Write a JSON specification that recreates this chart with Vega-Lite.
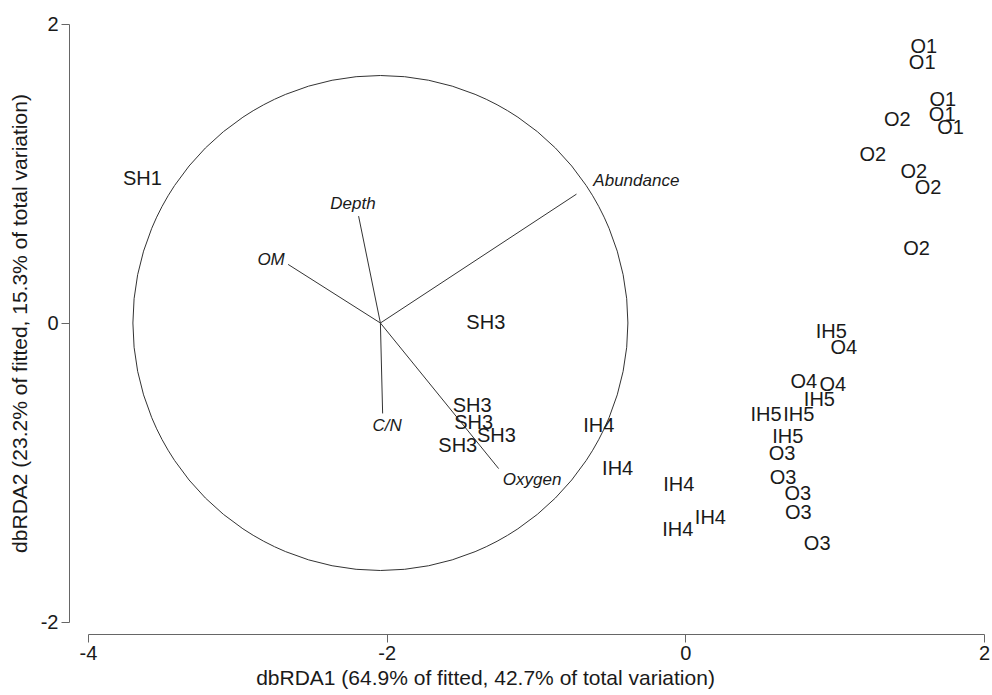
{
  "$schema": "https://vega.github.io/schema/vega-lite/v6.json",
  "width": 896,
  "height": 598,
  "autosize": {"type": "none"},
  "padding": {"left": 88, "top": 24, "right": 8, "bottom": 73},
  "config": {"view": {"stroke": null}, "font": "Liberation Sans"},
  "datasets": {
    "sites": [
      {"site": "SH1", "x": -3.636, "y": 0.963},
      {"site": "SH3", "x": -1.336, "y": 0.0},
      {"site": "SH3", "x": -1.428, "y": -0.557},
      {"site": "SH3", "x": -1.417, "y": -0.668},
      {"site": "SH3", "x": -1.265, "y": -0.757},
      {"site": "SH3", "x": -1.524, "y": -0.822},
      {"site": "IH4", "x": -0.580, "y": -0.690},
      {"site": "IH4", "x": -0.453, "y": -0.974},
      {"site": "IH4", "x": -0.044, "y": -1.085},
      {"site": "IH4", "x": 0.168, "y": -1.302},
      {"site": "IH4", "x": -0.051, "y": -1.387},
      {"site": "IH5", "x": 0.977, "y": -0.059},
      {"site": "IH5", "x": 0.898, "y": -0.512},
      {"site": "IH5", "x": 0.541, "y": -0.617},
      {"site": "IH5", "x": 0.760, "y": -0.617},
      {"site": "IH5", "x": 0.686, "y": -0.762},
      {"site": "O4", "x": 1.061, "y": -0.170},
      {"site": "O4", "x": 0.793, "y": -0.394},
      {"site": "O4", "x": 0.987, "y": -0.416},
      {"site": "O3", "x": 0.648, "y": -0.878},
      {"site": "O3", "x": 0.655, "y": -1.036},
      {"site": "O3", "x": 0.753, "y": -1.141},
      {"site": "O3", "x": 0.756, "y": -1.268},
      {"site": "O3", "x": 0.883, "y": -1.476},
      {"site": "O1", "x": 1.597, "y": 1.848},
      {"site": "O1", "x": 1.586, "y": 1.741},
      {"site": "O1", "x": 1.724, "y": 1.492},
      {"site": "O1", "x": 1.720, "y": 1.391},
      {"site": "O1", "x": 1.776, "y": 1.302},
      {"site": "O2", "x": 1.419, "y": 1.358},
      {"site": "O2", "x": 1.255, "y": 1.123},
      {"site": "O2", "x": 1.530, "y": 1.012},
      {"site": "O2", "x": 1.626, "y": 0.901},
      {"site": "O2", "x": 1.548, "y": 0.494}
    ],
    "vectors": [
      {"var": "Abundance", "x0": -2.042, "y0": 0, "x": -0.729, "y": 0.862, "lx": -0.328, "ly": 0.949},
      {"var": "Depth", "x0": -2.042, "y0": 0, "x": -2.188, "y": 0.715, "lx": -2.226, "ly": 0.793},
      {"var": "OM", "x0": -2.042, "y0": 0, "x": -2.660, "y": 0.392, "lx": -2.774, "ly": 0.421},
      {"var": "C/N", "x0": -2.042, "y0": 0, "x": -2.027, "y": -0.605, "lx": -1.997, "ly": -0.690},
      {"var": "Oxygen", "x0": -2.042, "y0": 0, "x": -1.250, "y": -0.974, "lx": -1.026, "ly": -1.047}
    ],
    "centre": [{"x": -2.042, "y": 0}]
  },
  "layer": [
    {
      "data": {"name": "centre"},
      "mark": {"type": "point", "shape": "circle", "filled": false, "size": 245025, "stroke": "#333333", "strokeWidth": 1, "opacity": 1},
      "encoding": {
        "x": {
          "field": "x", "type": "quantitative",
          "scale": {"domain": [-4, 2], "nice": false, "zero": false},
          "axis": {
            "values": [-4, -2, 0, 2], "offset": 12, "tickSize": 8, "grid": false,
            "labelExpr": "datum.value < 0 ? '-' + abs(datum.value) : '' + datum.value",
            "domainColor": "#666666", "tickColor": "#666666", "labelColor": "#1a1a1a",
            "labelFontSize": 20, "labelPadding": 1, "labelFlush": false,
            "title": "dbRDA1 (64.9% of fitted, 42.7% of total variation)",
            "titleFontSize": 21, "titleFontWeight": "normal", "titleColor": "#1a1a1a", "titlePadding": 4,
            "titleX": 397, "titleAlign": "center"
          }
        },
        "y": {
          "field": "y", "type": "quantitative",
          "scale": {"domain": [-2, 2], "nice": false, "zero": false},
          "axis": {
            "values": [-2, 0, 2], "offset": 19, "tickSize": 8, "grid": false,
            "labelExpr": "datum.value < 0 ? '-' + abs(datum.value) : '' + datum.value",
            "domainColor": "#666666", "tickColor": "#666666", "labelColor": "#1a1a1a",
            "labelFontSize": 20, "labelPadding": 3, "labelFlush": false,
            "title": "dbRDA2 (23.2% of fitted, 15.3% of total variation)",
            "titleFontSize": 21, "titleFontWeight": "normal", "titleColor": "#1a1a1a", "titlePadding": 10
          }
        }
      }
    },
    {
      "data": {"name": "vectors"},
      "mark": {"type": "rule", "color": "#333333", "strokeWidth": 1},
      "encoding": {
        "x": {"field": "x0", "type": "quantitative"},
        "y": {"field": "y0", "type": "quantitative"},
        "x2": {"field": "x"},
        "y2": {"field": "y"}
      }
    },
    {
      "data": {"name": "vectors"},
      "mark": {"type": "text", "fontSize": 17, "fontStyle": "italic", "color": "#1a1a1a", "align": "center", "baseline": "middle"},
      "encoding": {
        "x": {"field": "lx", "type": "quantitative"},
        "y": {"field": "ly", "type": "quantitative"},
        "text": {"field": "var"}
      }
    },
    {
      "data": {"name": "sites"},
      "mark": {"type": "text", "fontSize": 20, "color": "#1a1a1a", "align": "center", "baseline": "middle"},
      "encoding": {
        "x": {"field": "x", "type": "quantitative"},
        "y": {"field": "y", "type": "quantitative"},
        "text": {"field": "site"}
      }
    }
  ]
}
